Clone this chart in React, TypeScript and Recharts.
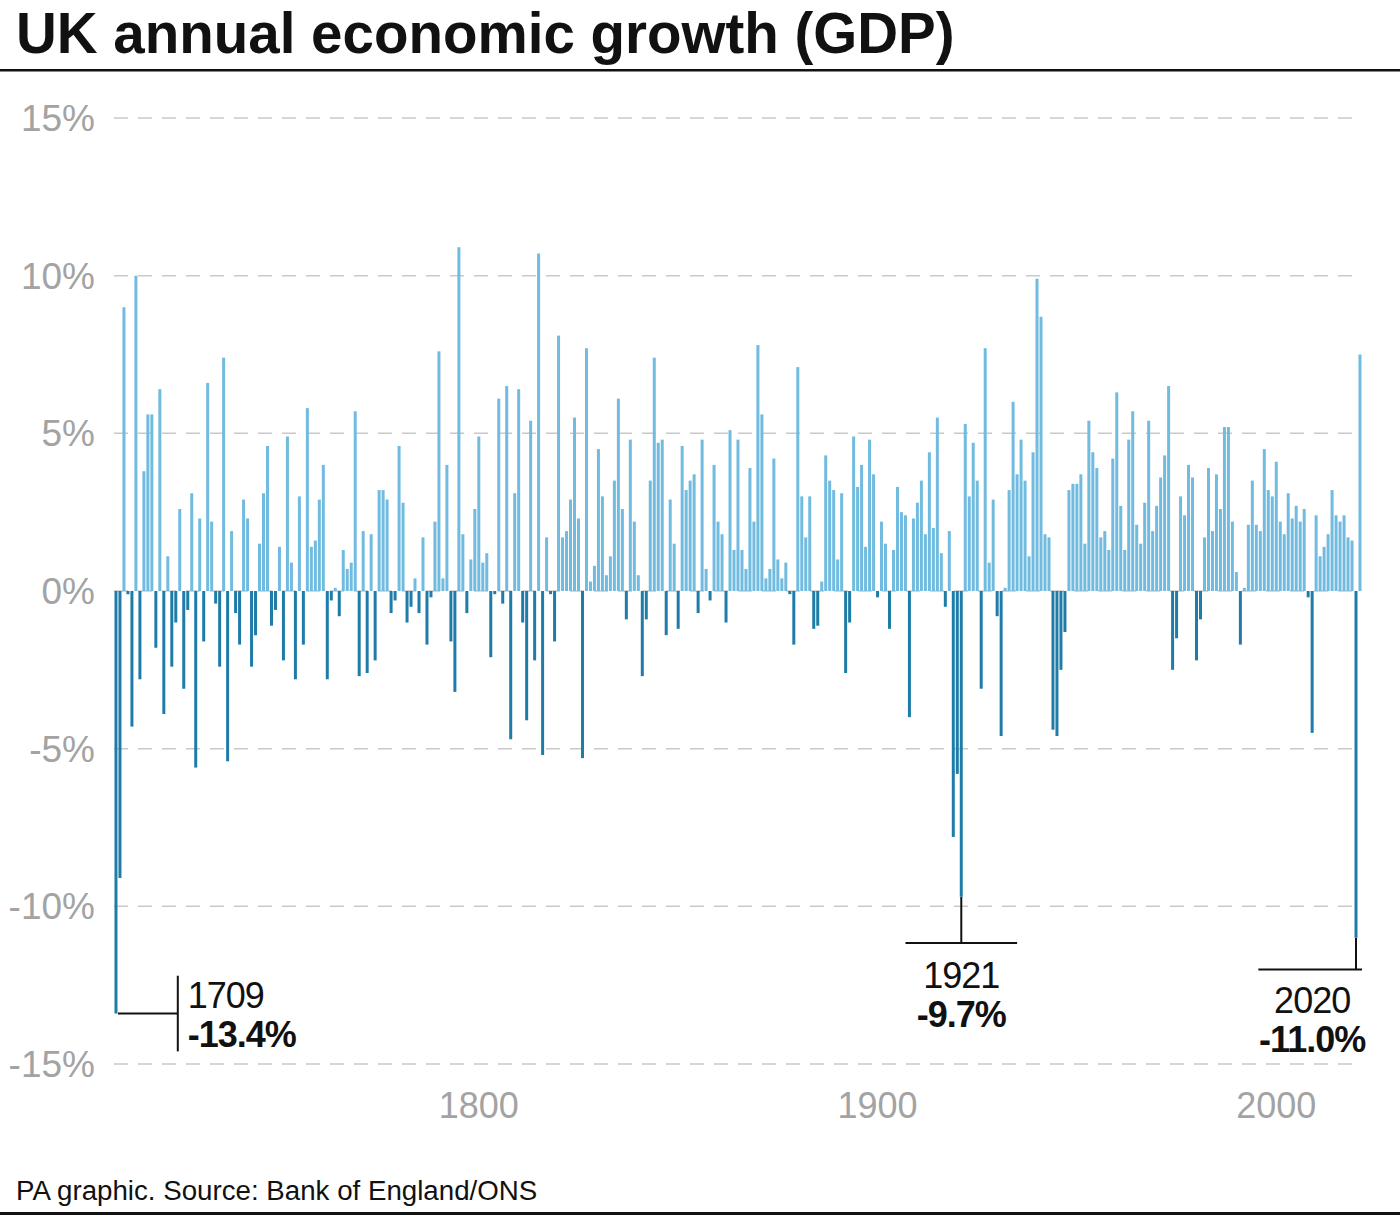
import React from 'react';
import { BarChart, Bar, XAxis, YAxis, CartesianGrid, Cell, ReferenceLine, ReferenceDot } from 'recharts';

const FIRST_YEAR = 1709;

// annual GDP growth, %, one value per year from 1709 to 2021
const growth: number[] = [
  -13.4, -9.1, 9.0, -0.1, -4.3, 10.0, -2.8, 3.8, 5.6, 5.6, // 1709
  -1.8, 6.4, -3.9, 1.1, -2.4, -1.0, 2.6, -3.1, -0.6, 3.1, // 1719
  -5.6, 2.3, -1.6, 6.6, 2.2, -0.4, -2.4, 7.4, -5.4, 1.9, // 1729
  -0.7, -1.7, 2.9, 2.3, -2.4, -1.4, 1.5, 3.1, 4.6, -1.1, // 1739
  -0.6, 1.4, -2.2, 4.9, 0.9, -2.8, 3.0, -1.7, 5.8, 1.4, // 1749
  1.6, 2.9, 4.0, -2.8, -0.3, 0.1, -0.8, 1.3, 0.7, 0.9, // 1759
  5.7, -2.7, 1.9, -2.6, 1.8, -2.2, 3.2, 3.2, 2.9, -0.7, // 1769
  -0.3, 4.6, 2.8, -1.0, -0.5, 0.4, -0.7, 1.7, -1.7, -0.2, // 1779
  2.2, 7.6, 0.4, 4.0, -1.6, -3.2, 10.9, 1.8, -0.7, 1.0, // 1789
  2.6, 4.9, 0.9, 1.2, -2.1, -0.1, 6.1, -0.4, 6.5, -4.7, // 1799
  3.1, 6.4, -1.0, -4.1, 5.4, -2.2, 10.7, -5.2, 1.7, -0.1, // 1809
  -1.6, 8.1, 1.7, 1.9, 2.9, 5.5, 2.3, -5.3, 7.7, 0.3, // 1819
  0.8, 4.5, 3.0, 0.5, 1.1, 3.5, 6.1, 2.6, -0.9, 4.8, // 1829
  2.2, 0.5, -2.7, -0.9, 3.5, 7.4, 4.7, 4.8, -1.4, 2.9, // 1839
  1.5, -1.2, 4.6, 3.2, 3.5, 3.7, -0.7, 4.8, 0.7, -0.3, // 1849
  4.0, 2.2, 1.8, -1.0, 5.1, 1.3, 4.8, 1.3, 0.7, 3.9, // 1859
  2.2, 7.8, 5.6, 0.4, 0.7, 4.2, 1.0, 0.4, 0.9, -0.1, // 1869
  -1.7, 7.1, 3.0, 1.7, 3.0, -1.2, -1.1, 0.3, 4.3, 3.5, // 1879
  3.2, 1.0, 3.1, -2.6, -1.0, 4.9, 3.3, 4.0, 1.4, 4.8, // 1889
  3.7, -0.2, 2.2, 1.5, -1.2, 1.3, 3.3, 2.5, 2.4, -4.0, // 1899
  2.3, 2.8, 3.5, 1.8, 4.4, 2.0, 5.5, 1.2, -0.5, 1.9, // 1909
  -7.8, -5.8, -9.7, 5.3, 3.0, 4.7, 3.5, -3.1, 7.7, 0.9, // 1919
  2.9, -0.8, -4.6, 0.1, 3.2, 6.0, 3.7, 4.8, 3.5, 1.1, // 1929
  4.4, 9.9, 8.7, 1.8, 1.7, -4.4, -4.6, -2.5, -1.3, 3.2, // 1939
  3.4, 3.4, 3.7, 1.5, 5.4, 4.4, 3.9, 1.7, 1.9, 1.3, // 1949
  4.2, 6.3, 2.7, 1.3, 4.8, 5.7, 2.1, 1.5, 2.8, 5.4, // 1959
  1.9, 2.7, 3.6, 4.3, 6.5, -2.5, -1.5, 3.0, 2.4, 4.0, // 1969
  3.6, -2.2, -0.9, 1.7, 3.9, 1.9, 3.7, 2.6, 5.2, 5.2, // 1979
  2.2, 0.6, -1.7, 0.1, 2.1, 3.5, 2.1, 1.9, 4.5, 3.2, // 1989
  3.0, 4.1, 2.2, 1.8, 3.1, 2.3, 2.7, 2.2, 2.6, -0.2, // 1999
  -4.5, 2.4, 1.1, 1.4, 1.8, 3.2, 2.4, 2.2, 2.4, 1.7, // 2009
  1.6, -11.0, 7.5, // 2019
];

const years = growth.map((_, i) => FIRST_YEAR + i);
const yTicks = [-15, -10, -5, 0, 5, 10, 15];
const xTicks = [1800, 1900, 2000];

// the three years picked out in the callouts
const callouts = [
  { year: 1709, value: -13.4, label: '-13.4%' },
  { year: 1921, value: -9.7, label: '-9.7%' },
  { year: 2020, value: -11.0, label: '-11.0%' },
];

const data = years.map((year, i) => ({ year, growth: growth[i] }));

const FONT = '"Liberation Sans", Arial, sans-serif';
const POS = '#70bbdf';
const NEG = '#1f7ca8';
const TICK = '#a3a3a3';

const fmtPct = (v: number) => `${v}%`;

const CalloutText = ({ viewBox, year, label, anchor, dx, dy }: any) => {
  const cx = viewBox.x + (viewBox.width || 0) / 2 + dx;
  const cy = viewBox.y + (viewBox.height || 0) / 2 + dy;
  return (
    <g fontFamily={FONT} fontSize={36} fill="#111" textAnchor={anchor}>
      <text x={cx} y={cy} letterSpacing={-1}>{year}</text>
      <text x={cx} y={cy + 39} fontWeight="bold" letterSpacing={-1}>{label}</text>
    </g>
  );
};

export default function App() {
  const [c1709, c1921, c2020] = callouts;
  return (
    <div style={{ position: 'absolute', left: 0, top: 0, width: 1400, height: 1218, background: '#fff' }}>
      <BarChart
        width={1400}
        height={1218}
        data={data}
        margin={{ top: 118, right: 38, bottom: 94, left: 8 }}
        barCategoryGap="12%"
      >
        <CartesianGrid vertical={false} stroke="#c9c9c9" strokeDasharray="14 10" strokeWidth={1.5} />
        <XAxis
          dataKey="year"
          ticks={xTicks}
          interval={0}
          axisLine={false}
          tickLine={false}
          tickSize={0}
          tickMargin={28}
          height={60}
          tick={{ fill: TICK, fontSize: 36, fontFamily: FONT }}
        />
        <YAxis
          domain={[-15, 15]}
          ticks={yTicks}
          tickFormatter={fmtPct}
          axisLine={false}
          tickLine={false}
          tickSize={0}
          tickMargin={19}
          width={106}
          tick={{ fill: TICK, fontSize: 37, fontFamily: FONT }}
        />
        <Bar dataKey="growth" isAnimationActive={false}>
          {data.map((d, i) => (
            <Cell key={`c-${i}`} fill={d.growth < 0 ? NEG : POS} />
          ))}
        </Bar>

        {/* 1709 callout */}
        <ReferenceLine segment={[{ x: 1709, y: c1709.value }, { x: 1724, y: c1709.value }]} position="end" stroke="#111" strokeWidth={2} />
        <ReferenceLine segment={[{ x: 1724, y: -12.2 }, { x: 1724, y: -14.6 }]} position="end" stroke="#111" strokeWidth={2} />
        <ReferenceDot
          x={1724}
          y={c1709.value}
          r={1}
          fill="none"
          stroke="none"
          label={(p: any) => <CalloutText {...p} year={c1709.year} label={c1709.label} anchor="start" dx={12} dy={-6} />}
        />

        {/* 1921 callout */}
        <ReferenceLine segment={[{ x: 1921, y: c1921.value }, { x: 1921, y: -11.16 }]} stroke="#111" strokeWidth={2} />
        <ReferenceLine segment={[{ x: 1907, y: -11.16 }, { x: 1935, y: -11.16 }]} stroke="#111" strokeWidth={2} />
        <ReferenceDot
          x={1921}
          y={-11.16}
          r={1}
          fill="none"
          stroke="none"
          label={(p: any) => <CalloutText {...p} year={c1921.year} label={c1921.label} anchor="middle" dx={0} dy={45} />}
        />

        {/* 2020 callout */}
        <ReferenceLine segment={[{ x: 2020, y: c2020.value }, { x: 2020, y: -12 }]} stroke="#111" strokeWidth={2} />
        <ReferenceLine segment={[{ x: 1995, y: -12 }, { x: 2021, y: -12 }]} position="end" stroke="#111" strokeWidth={2} />
        <ReferenceDot
          x={2009}
          y={-12}
          r={1}
          fill="none"
          stroke="none"
          label={(p: any) => <CalloutText {...p} year={c2020.year} label={c2020.label} anchor="middle" dx={0} dy={44} />}
        />
      </BarChart>

      <svg width={1400} height={1218} style={{ position: 'absolute', left: 0, top: 0, pointerEvents: 'none' }}>
        <text x={16} y={53} fontFamily={FONT} fontWeight="bold" fontSize={56.5} fill="#111">
          UK annual economic growth (GDP)
        </text>
        <rect x={0} y={69} width={1400} height={2.5} fill="#111" />
        <text x={16} y={1200} fontFamily={FONT} fontSize={27.7} fill="#111">
          PA graphic. Source: Bank of England/ONS
        </text>
        <rect x={0} y={1212} width={1400} height={3} fill="#111" />
      </svg>
    </div>
  );
}
